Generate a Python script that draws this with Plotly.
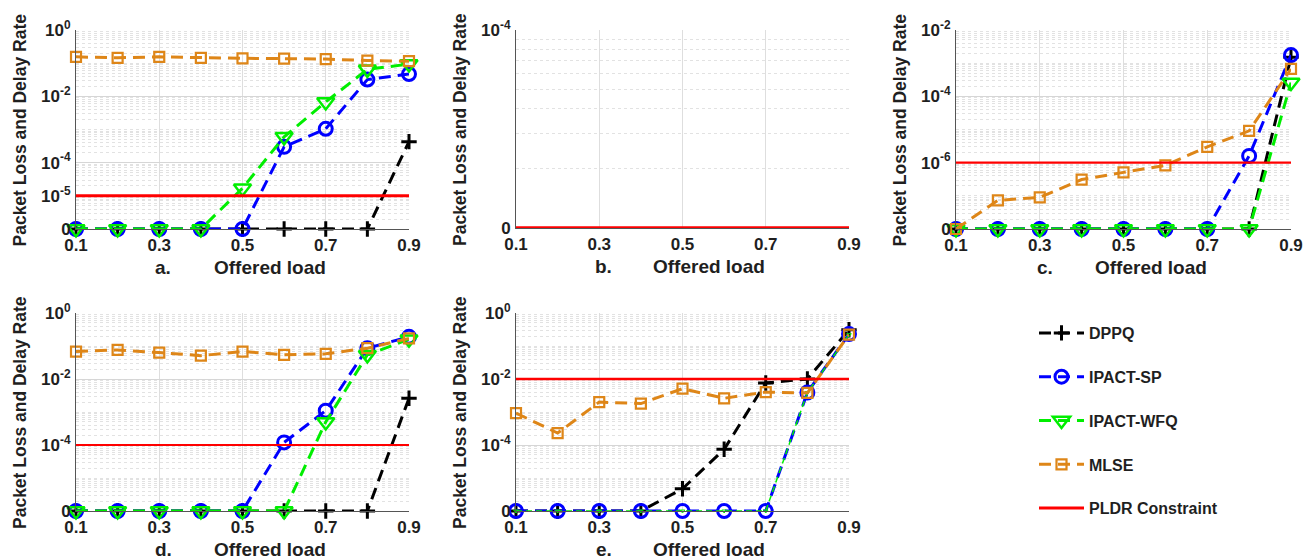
import plotly.graph_objects as go

# ---------------- data ----------------
loads = [0.1, 0.2, 0.3, 0.4, 0.5, 0.6, 0.7, 0.8, 0.9]
x_ticks = [0.1, 0.3, 0.5, 0.7, 0.9]

a_dppq = [0, 0, 0, 0, 0, 0, 0, 0, 4.3e-4]
a_sp = [0, 0, 0, 0, 0, 3.0e-4, 1.05e-3, 0.032, 0.047]
a_wfq = [0, 0, 0, 0, 1.7e-5, 6.0e-4, 6.8e-3, 0.065, 0.094]
a_mlse = [0.155, 0.145, 0.155, 0.145, 0.14, 0.137, 0.133, 0.12, 0.115]
a_pldr = 1e-5

b_pldr = 0

c_dppq = [0, 0, 0, 0, 0, 0, 0, 0, 1.5e-3]
c_sp = [0, 0, 0, 0, 0, 0, 0, 1.6e-6, 1.75e-3]
c_wfq = [0, 0, 0, 0, 0, 0, 0, 0, 2.6e-4]
c_mlse = [0, 7.3e-8, 9.0e-8, 3.1e-7, 5.1e-7, 8.3e-7, 3.0e-6, 9.1e-6, 6.7e-4]
c_pldr = 1e-6

d_dppq = [0, 0, 0, 0, 0, 0, 0, 0, 2.6e-3]
d_sp = [0, 0, 0, 0, 0, 1.2e-4, 1.1e-3, 0.086, 0.19]
d_wfq = [0, 0, 0, 0, 0, 0, 5.0e-4, 0.054, 0.16]
d_mlse = [0.068, 0.076, 0.063, 0.051, 0.068, 0.054, 0.058, 0.086, 0.17]
d_pldr = 1e-4

e_dppq = [0, 0, 0, 0, 4.7e-6, 7.4e-5, 7.6e-3, 1.0e-2, 0.31]
e_sp = [0, 0, 0, 0, 0, 0, 0, 3.9e-3, 0.23]
e_wfq = [0, 0, 0, 0, 0, 0, 0, 3.9e-3, 0.22]
e_mlse = [9.3e-4, 2.3e-4, 2.0e-3, 1.8e-3, 5.1e-3, 2.6e-3, 4.0e-3, 3.8e-3, 0.22]
e_pldr = 1e-2

series_names = ["DPPQ", "IPACT-SP", "IPACT-WFQ", "MLSE", "PLDR Constraint"]
panel_letters = ["a.", "b.", "c.", "d.", "e."]

# ---------------- style ----------------
W, H = 1303, 560
FONT = "Liberation Sans, Arial, sans-serif"
TXT = "#1f1f1f"
C_DPPQ, C_SP, C_WFQ, C_MLSE, C_RED = "#000000", "#0000ff", "#00ee00", "#de8618", "#ff0000"
DASH = "12px,7px"

# panel boxes in pixels: (left, right, top, bottom)
boxes = [(76, 409, 30, 229), (516, 849, 30, 228), (956, 1291, 30, 229),
         (76, 409, 313, 511), (516, 849, 313, 511)]
# log ranges (exponents) ; bottom value is shown as "0"
ranges = [(-6, 0), (-5, -4), (-8, -2), (-6, 0), (-6, 0)]
labeled = [[0, -2, -4, -5], [-4], [-2, -4, -6], [0, -2, -4], [0, -2, -4]]
red_widths = [3, 3.5, 2.2, 2.2, 2.6]

fig = go.Figure()


def floor_map(vals, lo):
    f = 10.0 ** lo
    return [v if v > 0 else f for v in vals]


def axes_of(idx):
    s = "" if idx == 0 else str(idx + 1)
    return "x" + s, "y" + s


def add_series(idx, name, y, color, symbol, msize, mlw, lw=3, show=False, dash=DASH):
    lo = ranges[idx][0]
    xa, ya = axes_of(idx)
    fig.add_trace(go.Scatter(
        x=loads, y=floor_map(y, lo), mode="lines+markers", name=name,
        legendgroup=name, showlegend=show, cliponaxis=False,
        line=dict(color=color, width=lw, dash=dash),
        marker=dict(symbol=symbol, size=msize, color=color, line=dict(color=color, width=mlw)),
        xaxis=xa, yaxis=ya,
    ))


def add_pldr(idx, val, show=False):
    lo = ranges[idx][0]
    xa, ya = axes_of(idx)
    fig.add_trace(go.Scatter(
        x=[loads[0], loads[-1]], y=floor_map([val, val], lo), mode="lines",
        name=series_names[4], legendgroup=series_names[4], showlegend=show,
        cliponaxis=False, line=dict(color=C_RED, width=red_widths[idx]),
        xaxis=xa, yaxis=ya,
    ))


panel_data = [
    (a_dppq, a_sp, a_wfq, a_mlse, a_pldr),
    None,
    (c_dppq, c_sp, c_wfq, c_mlse, c_pldr),
    (d_dppq, d_sp, d_wfq, d_mlse, d_pldr),
    (e_dppq, e_sp, e_wfq, e_mlse, e_pldr),
]

for i, pdat in enumerate(panel_data):
    if pdat is None:
        add_pldr(i, b_pldr)
        continue
    dp, sp, wf, ml, pl = pdat
    show = (i == 0)
    add_series(i, series_names[0], dp, C_DPPQ, "cross-thin", 11, 3, show=show)
    add_series(i, series_names[1], sp, C_SP, "circle-open", 13, 3, show=show)
    if i == 4:
        add_series(i, series_names[2], wf, C_WFQ, "triangle-down-open", 4, 1, lw=1.5, dash="6px,4px")
    else:
        add_series(i, series_names[2], wf, C_WFQ, "triangle-down-open", 15, 2.5, show=show)
    add_series(i, series_names[3], ml, C_MLSE, "square-open", 10, 2.2, show=show)
    add_pldr(i, pl, show=show)

TICKFONT = dict(size=17, family=FONT, color=TXT, weight="bold")

layout = dict(
    width=W, height=H, paper_bgcolor="white", plot_bgcolor="white",
    margin=dict(l=0, r=0, t=0, b=0, pad=0, autoexpand=False),
    font=dict(family=FONT, color=TXT, size=16, weight="bold"),
    showlegend=True,
    legend=dict(x=1034 / W, y=1 - 316 / H, xanchor="left", yanchor="top",
                font=dict(size=16, family=FONT, color=TXT, weight="bold"),
                tracegroupgap=20, itemwidth=45, bgcolor="rgba(0,0,0,0)"),
)

annotations = []
for i, (l, r, t, b) in enumerate(boxes):
    sfx = "" if i == 0 else str(i + 1)
    lo, hi = ranges[i]
    major = sorted(labeled[i] + [lo], reverse=True)
    tickvals = [10.0 ** e for e in major]
    ticktext = ["0" if e == lo else "10<sup>%d</sup>" % e for e in major]
    minor_vals = [k * 10.0 ** e for e in range(lo, hi) for k in range(1, 10)
                  if not (k == 1 and e in major)]
    layout["xaxis" + sfx] = dict(
        domain=[l / W, r / W], anchor="y" + sfx, range=[0.1, 0.9], automargin=False,
        tickmode="array", tickvals=x_ticks, ticktext=["%.1f" % v for v in x_ticks],
        showgrid=True, gridcolor="#dedede", gridwidth=1, zeroline=False,
        showline=True, linecolor="#555555", linewidth=1, ticks="",
        ticklabelstandoff=1, tickfont=TICKFONT,
    )
    layout["yaxis" + sfx] = dict(
        domain=[1 - b / H, 1 - t / H], anchor="x" + sfx, type="log", range=[lo, hi],
        automargin=False,
        tickmode="array", tickvals=tickvals, ticktext=ticktext,
        showgrid=True, gridcolor="#d6d6d6", gridwidth=1, zeroline=False,
        showline=True, linecolor="#555555", linewidth=1, ticks="",
        ticklabelstandoff=1, tickfont=TICKFONT,
        minor=dict(tickmode="array", tickvals=minor_vals, showgrid=True,
                   gridcolor="#e2e2e2", griddash="dot", gridwidth=1, ticks=""),
    )
    # y title
    annotations.append(dict(
        text="Packet Loss and Delay Rate", x=(l - 56) / W, y=1 - ((t + b) / 2 + 1) / H,
        xref="paper", yref="paper", textangle=-90, showarrow=False,
        xanchor="center", yanchor="middle",
        font=dict(size=17.5, family=FONT, color=TXT, weight="bold"),
    ))
    # x title
    cx = (l + r) / 2
    annotations.append(dict(
        text="Offered load", x=(cx + 27) / W, y=1 - (b + 38) / H, xref="paper", yref="paper",
        showarrow=False, xanchor="center", yanchor="middle",
        font=dict(size=19, family=FONT, color=TXT, weight="bold"),
    ))
    annotations.append(dict(
        text=panel_letters[i], x=(cx - 79) / W, y=1 - (b + 38) / H, xref="paper", yref="paper",
        showarrow=False, xanchor="center", yanchor="middle",
        font=dict(size=19, family=FONT, color=TXT, weight="bold"),
    ))

layout["annotations"] = annotations
fig.update_layout(**layout)
fig.write_html("out.html", config={"displayModeBar": False},
               post_script="document.body.style.margin='0px';document.body.style.overflow='hidden';")
